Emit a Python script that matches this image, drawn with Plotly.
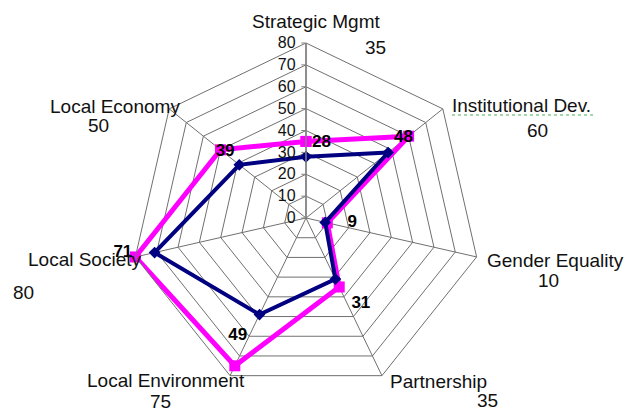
import plotly.graph_objects as go

categories = ["Strategic Mgmt", "Institutional Dev.", "Gender Equality", "Partnership",
              "Local Environment", "Local Society", "Local Economy"]
target = [35, 60, 10, 35, 75, 80, 50]
actual = [28, 48, 9, 31, 49, 71, 39]
radial_ticks = [0, 10, 20, 30, 40, 50, 60, 70, 80]

W, H = 630, 412
# center (306,218), radius 175 px
cx, cy, R = 306, 218, 175

label_pos = {  # (name_x, name_y, name_anchor, val_x, val_y)
    "Strategic Mgmt": (316, 22, "center", 375, 48),
    "Institutional Dev.": (450, 105, "left", 537, 130),
    "Gender Equality": (485, 260, "left", 548, 280),
    "Partnership": (388, 381, "left", 487, 400),
    "Local Environment": (166, 380, "center", 160, 401),
    "Local Society": (85, 259, "center", 23, 292),
    "Local Economy": (115, 106, "center", 98, 126),
}
# data-label placement style (position + spacing from the point)
text_positions = ["top right", "top right", "middle right", "bottom right",
                  "bottom left", "middle left", "top left"]
text_gap = [8, 8, 34, 24, 18, 34, 6]

cats_closed = categories + [categories[0]]
FONT = "Liberation Sans, Arial"

fig = go.Figure()
fig.add_trace(go.Scatterpolar(
    r=target + [target[0]], theta=cats_closed, mode="lines+markers",
    line=dict(color="#FF00FF", width=5),
    marker=dict(symbol="square", size=11, color="#FF00FF", line=dict(width=0)),
    hoverinfo="r+theta"))
fig.add_trace(go.Scatterpolar(
    r=actual + [actual[0]], theta=cats_closed, mode="lines+markers",
    line=dict(color="#000080", width=4),
    marker=dict(symbol="diamond", size=9, color="#000080", line=dict(width=0)),
    hoverinfo="r+theta"))
fig.add_trace(go.Scatterpolar(
    r=actual, theta=categories, mode="markers+text",
    marker=dict(size=text_gap, color="rgba(0,0,0,0)", opacity=0,
                line=dict(width=0, color="rgba(0,0,0,0)")),
    text=[str(v) for v in actual], textposition=text_positions,
    textfont=dict(family=FONT, size=17, color="black", weight="bold"),
    hoverinfo="skip"))

annotations = []
for c, t in zip(categories, target):
    nx, ny, na, vx, vy = label_pos[c]
    annotations.append(dict(x=nx / W, y=1 - ny / H, xref="paper", yref="paper", text=c,
                            showarrow=False, xanchor=na, yanchor="middle",
                            font=dict(family=FONT, size=19, color="#111")))
    annotations.append(dict(x=vx / W, y=1 - vy / H, xref="paper", yref="paper", text=str(t),
                            showarrow=False, xanchor="center", yanchor="middle",
                            font=dict(family=FONT, size=19, color="#111")))

fig.update_layout(
    width=W, height=H,
    margin=dict(l=0, r=0, t=0, b=0),
    paper_bgcolor="white",
    showlegend=False,
    annotations=annotations,
    shapes=[dict(type="line", xref="paper", yref="paper",
                 x0=452 / W, x1=596 / W, y0=1 - 115 / H, y1=1 - 115 / H,
                 line=dict(color="#4CAF50", width=1, dash="dot"))],
    polar=dict(
        domain=dict(x=[(cx - R) / W, (cx + R) / W], y=[1 - (cy + R) / H, 1 - (cy - R) / H]),
        bgcolor="white",
        gridshape="linear",
        angularaxis=dict(direction="clockwise", rotation=90, showticklabels=False,
                         ticks="", showline=True, linecolor="#707070", linewidth=1,
                         gridcolor="#707070", gridwidth=1),
        radialaxis=dict(range=[0, 80], tickvals=radial_ticks, angle=90, tickangle=90,
                        side="counterclockwise", showline=True, linecolor="#808080",
                        linewidth=1.5, ticks="outside", ticklen=4, tickcolor="#808080",
                        gridcolor="#707070", gridwidth=1,
                        tickfont=dict(family=FONT, size=16, color="#111")),
    ),
)
fig.write_html("out.html", config={"displayModeBar": False},
               post_script="document.body.style.margin='0px';")
